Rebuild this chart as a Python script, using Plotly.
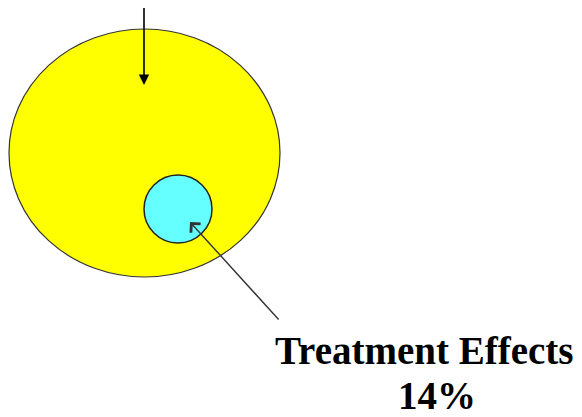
import plotly.graph_objects as go

# diagram content
labels = ["Treatment Effects"]
shares = [14]  # percent

# outer (yellow) ellipse and inner (cyan) circle: [x0, y0, x1, y1] in pixel space
outer_box = [9, 29, 280, 277]
inner_box = [144, 175, 212, 243]

# arrows: (tail_x, tail_y, tip_x, tip_y)
top_arrow = (144, 5, 144, 85)
label_arrow = (280, 321, 190, 222)

W, H = 582, 417
PAD = 8  # the html page body keeps an 8px margin

fig = go.Figure()
fig.add_trace(go.Scatter(x=[PAD, W], y=[PAD, H], mode="markers",
                         marker=dict(opacity=0), hoverinfo="skip", showlegend=False))

fig.add_shape(type="circle", xref="x", yref="y",
              x0=outer_box[0], y0=outer_box[1], x1=outer_box[2], y1=outer_box[3],
              fillcolor="#FFFF00", line=dict(color="#333333", width=1.2), layer="below")
fig.add_shape(type="circle", xref="x", yref="y",
              x0=inner_box[0], y0=inner_box[1], x1=inner_box[2], y1=inner_box[3],
              fillcolor="#66FFFF", line=dict(color="#222222", width=1.5), layer="below")

# arrow from the top into the big ellipse
fig.add_annotation(x=top_arrow[2], y=top_arrow[3], ax=top_arrow[0], ay=top_arrow[1],
                   xref="x", yref="y", axref="x", ayref="y", text="",
                   showarrow=True, arrowhead=2, arrowsize=1.3, arrowwidth=1.6,
                   arrowcolor="#000000")

# arrow from the label to the small circle (open head)
fig.add_annotation(x=label_arrow[2], y=label_arrow[3], ax=label_arrow[0], ay=label_arrow[1],
                   xref="x", yref="y", axref="x", ayref="y", text="",
                   showarrow=True, arrowhead=4, arrowsize=1.8, arrowwidth=1.4,
                   arrowcolor="#333333")

font = dict(family="Liberation Serif", size=39, color="#000000")
fig.add_annotation(x=424, y=350, xref="x", yref="y", text="<b>%s</b>" % labels[0],
                   showarrow=False, font=font)
fig.add_annotation(x=437, y=395, xref="x", yref="y", text="<b>%d%%</b>" % shares[0],
                   showarrow=False, font=font)

fig.update_xaxes(range=[PAD, W], visible=False, fixedrange=True)
fig.update_yaxes(range=[H, PAD], visible=False, fixedrange=True)
fig.update_layout(width=W - PAD, height=H - PAD, margin=dict(l=0, r=0, t=0, b=0),
                  plot_bgcolor="white", paper_bgcolor="white", showlegend=False)

fig.write_html("out.html", config={"displayModeBar": False})
